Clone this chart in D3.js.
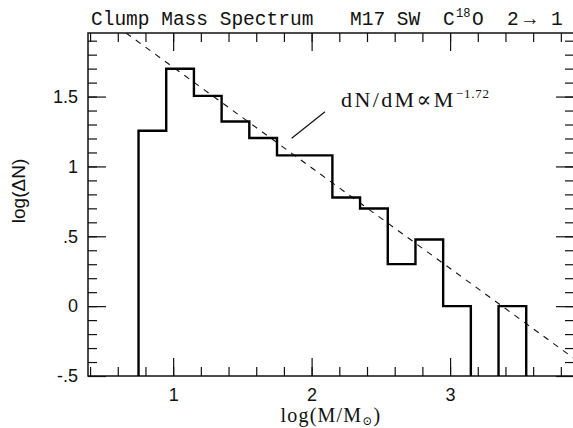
<!DOCTYPE html>
<html>
<head>
<meta charset="utf-8">
<script src="https://cdn.jsdelivr.net/npm/d3@7"></script>
<style>
  html, body { margin: 0; padding: 0; background: #fff; }
  svg { display: block; }
</style>
</head>
<body>
<svg id="chart" width="573" height="428"></svg>
<script>
// ---- data ----
const binEdges = [0.75, 0.95, 1.15, 1.35, 1.55, 1.75, 1.95, 2.15, 2.35, 2.55, 2.75, 2.95, 3.15, 3.35, 3.55];
const logCounts = [1.255, 1.699, 1.505, 1.322, 1.204, 1.079, 1.079, 0.778, 0.699, 0.301, 0.477, 0.0, null, 0.0];
const fitLineX = [0.66, 3.895];
const fitLineY = [1.955, -0.374];
const yTickValues = [-0.5, 0, 0.5, 1, 1.5];
const yTickLabels = ["-.5", "0", ".5", "1", "1.5"];
const xTickValues = [1, 2, 3];
const xTickLabels = ["1", "2", "3"];
const xMinorTicks = [0.4, 0.6, 0.8, 1.0, 1.2, 1.4, 1.6, 1.8, 2.0, 2.2, 2.4, 2.6, 2.8, 3.0, 3.2, 3.4, 3.6, 3.8];
const yMinorTicks = [-0.4, -0.3, -0.2, -0.1, 0, 0.1, 0.2, 0.3, 0.4, 0.5, 0.6, 0.7, 0.8, 0.9, 1.0, 1.1, 1.2, 1.3, 1.4, 1.5, 1.6, 1.7, 1.8, 1.9];

// ---- layout ----
const L = 88, R = 574, T = 33, B = 376;
const x = d3.scaleLinear().domain([0.385, 3.895]).range([L, R]);
const y = d3.scaleLinear().domain([-0.5, 1.955]).range([B, T]);

const svg = d3.select("#chart");
svg.append("rect").attr("width", 573).attr("height", 428).attr("fill", "#fff");

const sans = "'Liberation Sans', Arial, Helvetica, sans-serif";
const serif = "'Liberation Serif', 'DejaVu Serif', serif";
const mono = "'Liberation Mono', 'DejaVu Sans Mono', monospace";

function styleAxis(g) {
  g.select(".domain").remove();
  g.selectAll(".tick line").attr("stroke", "#111").attr("stroke-width", 1.2);
}

// minor ticks on all four sides
svg.append("g").attr("transform", `translate(0,${B})`)
  .call(d3.axisBottom(x).tickValues(xMinorTicks).tickSize(-9).tickFormat(""))
  .call(styleAxis);
svg.append("g").attr("transform", `translate(0,${T})`)
  .call(d3.axisTop(x).tickValues(xMinorTicks).tickSize(-9).tickFormat(""))
  .call(styleAxis);
svg.append("g").attr("transform", `translate(${L},0)`)
  .call(d3.axisLeft(y).tickValues(yMinorTicks).tickSize(-9).tickFormat(""))
  .call(styleAxis);
svg.append("g").attr("transform", `translate(${R},0)`)
  .call(d3.axisRight(y).tickValues(yMinorTicks).tickSize(-9).tickFormat(""))
  .call(styleAxis);

// major ticks
const xb = svg.append("g").attr("transform", `translate(0,${B})`)
  .call(d3.axisBottom(x).tickValues(xTickValues).tickSizeInner(-18).tickSizeOuter(0)
    .tickPadding(12).tickFormat((d, i) => xTickLabels[i]))
  .call(styleAxis);
xb.selectAll("text").attr("font-family", sans).attr("font-size", 18).attr("fill", "#111");

svg.append("g").attr("transform", `translate(0,${T})`)
  .call(d3.axisTop(x).tickValues(xTickValues).tickSize(-18).tickFormat(""))
  .call(styleAxis);

const yl = svg.append("g").attr("transform", `translate(${L},0)`)
  .call(d3.axisLeft(y).tickValues(yTickValues).tickSizeInner(-18).tickSizeOuter(0)
    .tickPadding(10).tickFormat((d, i) => yTickLabels[i]))
  .call(styleAxis);
yl.selectAll("text").attr("font-family", sans).attr("font-size", 18).attr("fill", "#111");

svg.append("g").attr("transform", `translate(${R},0)`)
  .call(d3.axisRight(y).tickValues(yTickValues).tickSize(-18).tickFormat(""))
  .call(styleAxis);

// frame
svg.append("rect").attr("x", L).attr("y", T).attr("width", R - L).attr("height", B - T)
  .attr("fill", "none").attr("stroke", "#111").attr("stroke-width", 1.5);

// clip
svg.append("clipPath").attr("id", "plotclip").append("rect")
  .attr("x", L).attr("y", T).attr("width", R - L).attr("height", B - T);

// fit line (dashed)
svg.append("line")
  .attr("clip-path", "url(#plotclip)")
  .attr("x1", x(fitLineX[0])).attr("y1", y(fitLineY[0]))
  .attr("x2", x(fitLineX[1])).attr("y2", y(fitLineY[1]))
  .attr("stroke", "#111").attr("stroke-width", 1.1).attr("stroke-dasharray", "6,6");

// histogram steps
const base = -0.5;
let pts = [];
const paths = [];
for (let i = 0; i < logCounts.length; i++) {
  const v = logCounts[i];
  if (v === null) {
    if (pts.length) { pts.push([binEdges[i], base]); paths.push(pts); pts = []; }
    continue;
  }
  if (!pts.length) pts.push([binEdges[i], base]);
  pts.push([binEdges[i], v]);
  pts.push([binEdges[i + 1], v]);
}
if (pts.length) { pts.push([binEdges[logCounts.length], base]); paths.push(pts); }

const line = d3.line().x(d => x(d[0])).y(d => y(d[1]));
svg.selectAll("path.hist").data(paths).join("path")
  .attr("class", "hist")
  .attr("d", line)
  .attr("fill", "none").attr("stroke", "#000").attr("stroke-width", 2.4)
  .attr("stroke-linejoin", "miter");

// annotation
svg.append("line")
  .attr("x1", 291.7).attr("y1", 138.3).attr("x2", 325).attr("y2", 111.7)
  .attr("stroke", "#111").attr("stroke-width", 1.2);
const ann = svg.append("text").attr("x", 341).attr("y", 107)
  .attr("font-family", serif).attr("font-size", 22).attr("letter-spacing", 2.4).attr("fill", "#111");
ann.append("tspan").text("dN/dM\u221DM");
ann.append("tspan").attr("font-size", 13).attr("dy", -9).attr("letter-spacing", 0.8).text("\u22121.72");

// titles
svg.append("text").attr("x", 91).attr("y", 25)
  .attr("font-family", mono).attr("font-size", 19.5).attr("fill", "#111")
  .text("Clump Mass Spectrum");
const rt = [
  {t: "M17 SW", x: 350, y: 25, s: 19.5},
  {t: "C", x: 443, y: 25, s: 19.5},
  {t: "18", x: 456, y: 17, s: 12},
  {t: "O", x: 472, y: 25, s: 19.5},
  {t: "2", x: 507, y: 25, s: 19.5},
  {t: "\u2192", x: 524, y: 25, s: 19.5},
  {t: "1", x: 551, y: 25, s: 19.5}
];
svg.selectAll("text.rt").data(rt).join("text").attr("class", "rt")
  .attr("x", d => d.x).attr("y", d => d.y).attr("font-size", d => d.s)
  .attr("font-family", mono).attr("fill", "#111").text(d => d.t);

// axis titles
const xt = svg.append("text").attr("x", 331).attr("y", 422).attr("text-anchor", "middle")
  .attr("font-family", serif).attr("font-size", 20).attr("letter-spacing", 1.2).attr("fill", "#111");
xt.append("tspan").text("log(M/M");
xt.append("tspan").attr("font-size", 12).attr("dy", 3).text("\u2299");
xt.append("tspan").attr("dy", -3).text(")");

svg.append("text").attr("transform", "translate(25,191) rotate(-90)")
  .attr("text-anchor", "middle").attr("font-family", sans).attr("font-size", 19)
  .attr("fill", "#111").text("log(\u0394N)");
</script>
</body>
</html>
